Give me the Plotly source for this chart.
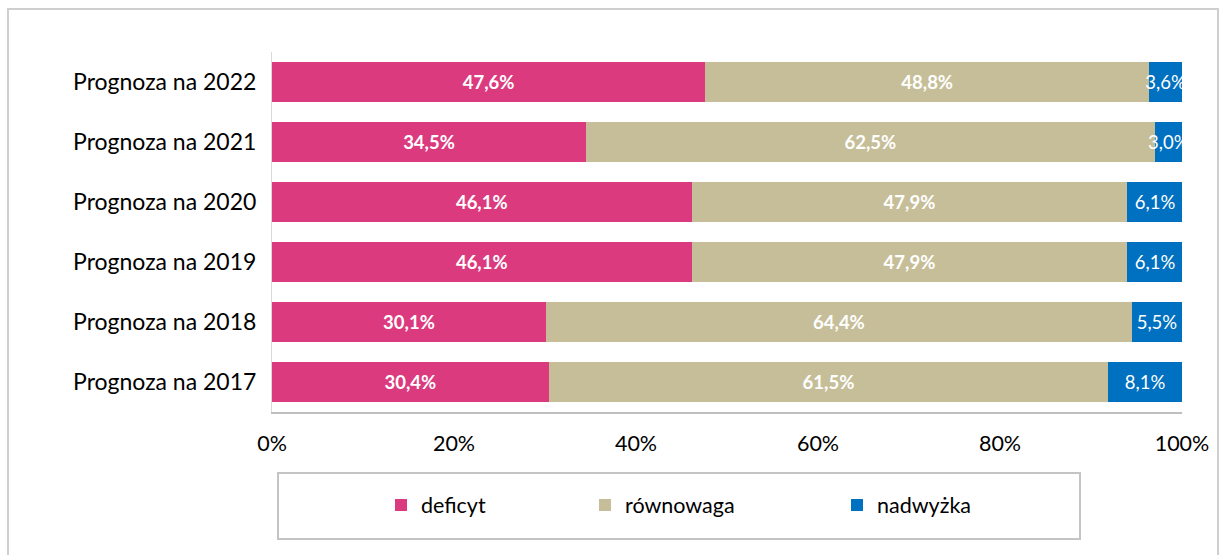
import plotly.graph_objects as go

categories = ["Prognoza na 2017", "Prognoza na 2018", "Prognoza na 2019",
              "Prognoza na 2020", "Prognoza na 2021", "Prognoza na 2022"]
deficyt = [30.4, 30.1, 46.1, 46.1, 34.5, 47.6]
rownowaga = [61.5, 64.4, 47.9, 47.9, 62.5, 48.8]
nadwyzka = [8.1, 5.5, 6.1, 6.1, 3.0, 3.6]
x_tickvals = [0, 20, 40, 60, 80, 100]
x_ticktext = ["0%", "20%", "40%", "60%", "80%", "100%"]

FONT = "Lato"
W, H = 1225, 555
L, R, T, B = 272, 43, 52, 143
PW, PH = W - L - R, H - T - B

def px_x(p):
    return (p - L) / PW

def px_y(p):
    return (H - B - p) / PH

series = [
    ("deficyt", deficyt, "#DC3A7E", True, "legend"),
    ("równowaga", rownowaga, "#C6BE98", True, "legend2"),
    ("nadwyżka", nadwyzka, "#0070C0", False, "legend3"),
]

fig = go.Figure()
for name, vals, color, bold, leg in series:
    fig.add_trace(go.Bar(
        y=categories, x=vals, name=name, orientation="h",
        marker=dict(color=color, line=dict(width=0)),
        texttemplate="<b>%{x:.1f}%</b>" if bold else "%{x:.1f}%",
        textposition="inside", insidetextanchor="middle",
        constraintext="none", textangle=0,
        textfont=dict(family=FONT, size=18.5, color="white"),
        cliponaxis=True, legend=leg, hoverinfo="skip",
    ))

legend_common = dict(orientation="h", yanchor="middle", xanchor="left",
                     font=dict(family=FONT, size=21.5, color="#000000"),
                     bgcolor="rgba(0,0,0,0)", borderwidth=0)
leg_y = px_y(505)

fig.update_layout(
    width=W, height=H,
    margin=dict(l=L, r=R, t=T, b=B, autoexpand=False),
    barmode="stack", bargap=0.333,
    separators=", ",
    plot_bgcolor="white", paper_bgcolor="white",
    font=dict(family=FONT, size=21.5, color="#000000"),
    showlegend=True,
    legend=dict(x=px_x(381), y=leg_y, **legend_common),
    legend2=dict(x=px_x(585), y=leg_y, **legend_common),
    legend3=dict(x=px_x(837), y=leg_y, **legend_common),
    xaxis=dict(range=[0, 100], tickvals=x_tickvals, ticktext=x_ticktext,
               showgrid=False, zeroline=False, showline=True,
               linecolor="#BFBFBF", linewidth=2, ticks="",
               ticklabelstandoff=11,
               tickfont=dict(family=FONT, size=21.5, color="#000000"),
               fixedrange=True),
    yaxis=dict(showgrid=False, zeroline=False, showline=True,
               linecolor="#D9D9D9", linewidth=1, ticks="",
               ticklabelstandoff=10,
               tickfont=dict(family=FONT, size=23, color="#000000"),
               fixedrange=True),
    shapes=[
        dict(type="rect", xref="paper", yref="paper",
             x0=px_x(8), x1=px_x(1218), y0=px_y(570), y1=px_y(9),
             line=dict(color="#CFCFCF", width=2), fillcolor="rgba(0,0,0,0)",
             layer="below"),
        dict(type="rect", xref="paper", yref="paper",
             x0=px_x(278), x1=px_x(1080), y0=px_y(539), y1=px_y(473),
             line=dict(color="#C4C4C4", width=2), fillcolor="rgba(0,0,0,0)",
             layer="below"),
    ],
)

fig.write_html("out.html", config={"displayModeBar": False},
               post_script="document.body.style.margin='0px';")
